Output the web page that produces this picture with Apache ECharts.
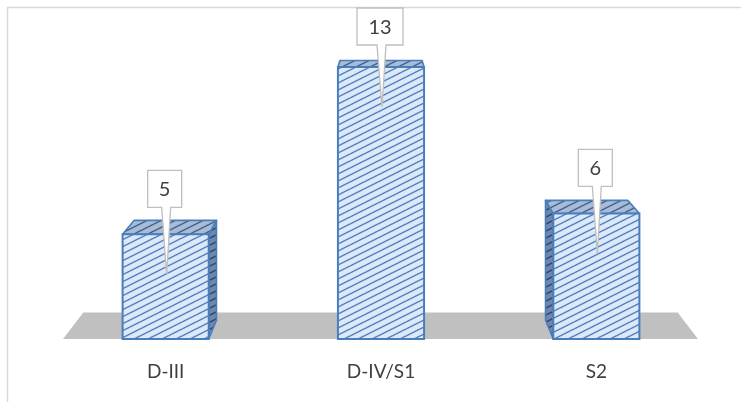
<!DOCTYPE html>
<html>
<head>
<meta charset="utf-8">
<script src="https://cdn.jsdelivr.net/npm/echarts@6/dist/echarts.min.js"></script>
<style>
  html, body { margin: 0; padding: 0; background: #fff; }
  #chart { width: 741px; height: 402px; }
</style>
</head>
<body>
<div id="chart"></div>
<script>
var categories = ['D-III', 'D-IV/S1', 'S2'];
var counts = [5, 13, 6];

// diagonal hatch fill like the office "wide upward diagonal" pattern
function hatch(bg, line, lw) {
    var w = 14, h = 7;
    var c = document.createElement('canvas');
    c.width = w; c.height = h;
    var ctx = c.getContext('2d');
    ctx.fillStyle = bg;
    ctx.fillRect(0, 0, w, h);
    ctx.strokeStyle = line;
    ctx.lineWidth = lw;
    [-h, 0, h].forEach(function (off) {
        ctx.beginPath();
        ctx.moveTo(-2, h + off + 1);
        ctx.lineTo(w + 2, off - 1);
        ctx.stroke();
    });
    return { image: c, repeat: 'repeat' };
}

var frontFill = hatch('#dde9f8', '#5283c2', 1.5);
var topFill = hatch('#a9bcd6', '#44628f', 1.5);
var sideFill = hatch('#6f87ad', '#2c4670', 1.5);

var VP_S = 0.955;     // depth of bars
var FLOOR_S = 0.936;  // depth of the floor

function vanish(cs) {
    return [cs.x + cs.width / 2, cs.y - 123];
}
function back(p, vp, s) {
    return [vp[0] + s * (p[0] - vp[0]), vp[1] + s * (p[1] - vp[1])];
}

function renderFloor(params, api) {
    var cs = params.coordSys;
    var vp = vanish(cs);
    var y = api.coord([0, 0])[1];
    var fl = [cs.x + 5, y], fr = [cs.x + cs.width - 6, y];
    return {
        type: 'polygon',
        shape: { points: [fl, fr, back(fr, vp, FLOOR_S), back(fl, vp, FLOOR_S)] },
        style: { fill: '#c0c0c0' },
        silent: true
    };
}

function renderBar(params, api) {
    var cs = params.coordSys;
    var vp = vanish(cs);
    var top = api.coord([api.value(0), api.value(1)]);
    var base = api.coord([api.value(0), 0]);
    var bw = api.size([1, 0])[0] * 0.4;
    var x0 = top[0] - bw / 2, x1 = top[0] + bw / 2;
    var tl = [x0, top[1]], tr = [x1, top[1]], bl = [x0, base[1]], br = [x1, base[1]];
    var edge = { stroke: '#4a7ebb', lineWidth: 1.6, lineJoin: 'round' };
    var children = [];

    if (top[0] < vp[0] - bw / 2) {
        children.push({ type: 'polygon', shape: { points: [tr, br, back(br, vp, VP_S), back(tr, vp, VP_S)] },
            style: Object.assign({ fill: sideFill }, edge) });
    } else if (top[0] > vp[0] + bw / 2) {
        children.push({ type: 'polygon', shape: { points: [tl, bl, back(bl, vp, VP_S), back(tl, vp, VP_S)] },
            style: Object.assign({ fill: sideFill }, edge) });
    }
    children.push({ type: 'polygon', shape: { points: [tl, tr, back(tr, vp, VP_S), back(tl, vp, VP_S)] },
        style: Object.assign({ fill: topFill }, edge) });
    children.push({ type: 'polygon', shape: { points: [tl, tr, br, bl] },
        style: { fill: frontFill, stroke: '#4a7ebb', lineWidth: 2 } });

    // callout label
    var txt = String(api.value(1));
    var w = 22 + 12 * txt.length, h = 37;
    var cx = top[0] - 1;
    var bb = Math.max(top[1] - 27, cs.y - 38 + h);
    var bt = bb - h;
    var tip = [top[0] + 1, top[1] + 40];
    children.push({
        type: 'polygon',
        shape: { points: [[cx - w / 2, bt], [cx + w / 2, bt], [cx + w / 2, bb], [cx + 6, bb], tip, [cx - 3, bb], [cx - w / 2, bb]] },
        style: { fill: '#ffffff', stroke: '#bfbfbf', lineWidth: 1.3 }
    });
    children.push({
        type: 'text',
        style: { text: txt, x: cx, y: bt + h / 2 + 1, align: 'center', verticalAlign: 'middle',
            fill: '#404040', font: '20px Lato, "Open Sans", sans-serif' }
    });
    return { type: 'group', children: children };
}

var chart = echarts.init(document.getElementById('chart'), null, { renderer: 'canvas' });
var option = {
    animation: false,
    backgroundColor: '#ffffff',
    graphic: [{
        type: 'rect', z: -10, silent: true,
        shape: { x: 7.5, y: 7.5, width: 800, height: 500 },
        style: { fill: 'none', stroke: '#d9d9d9', lineWidth: 1.5 }
    }],
    grid: { left: 58, right: 37, top: 46, bottom: 63 },
    xAxis: {
        type: 'category',
        data: categories,
        axisLine: { show: false },
        axisTick: { show: false },
        axisLabel: { margin: 23, fontSize: 19, color: '#404040', fontFamily: 'Lato, "Open Sans", sans-serif' }
    },
    yAxis: {
        type: 'value', min: 0, max: 14, show: false,
        splitLine: { show: false }
    },
    series: [
        {
            type: 'custom', z: 1,
            renderItem: renderFloor,
            data: [[0]]
        },
        {
            type: 'custom', z: 2,
            renderItem: renderBar,
            encode: { x: 0, y: 1 },
            data: categories.map(function (c, i) { return [i, counts[i]]; })
        }
    ]
};
chart.setOption(option);
window.addEventListener('resize', function () { chart.resize(); });
</script>
</body>
</html>
